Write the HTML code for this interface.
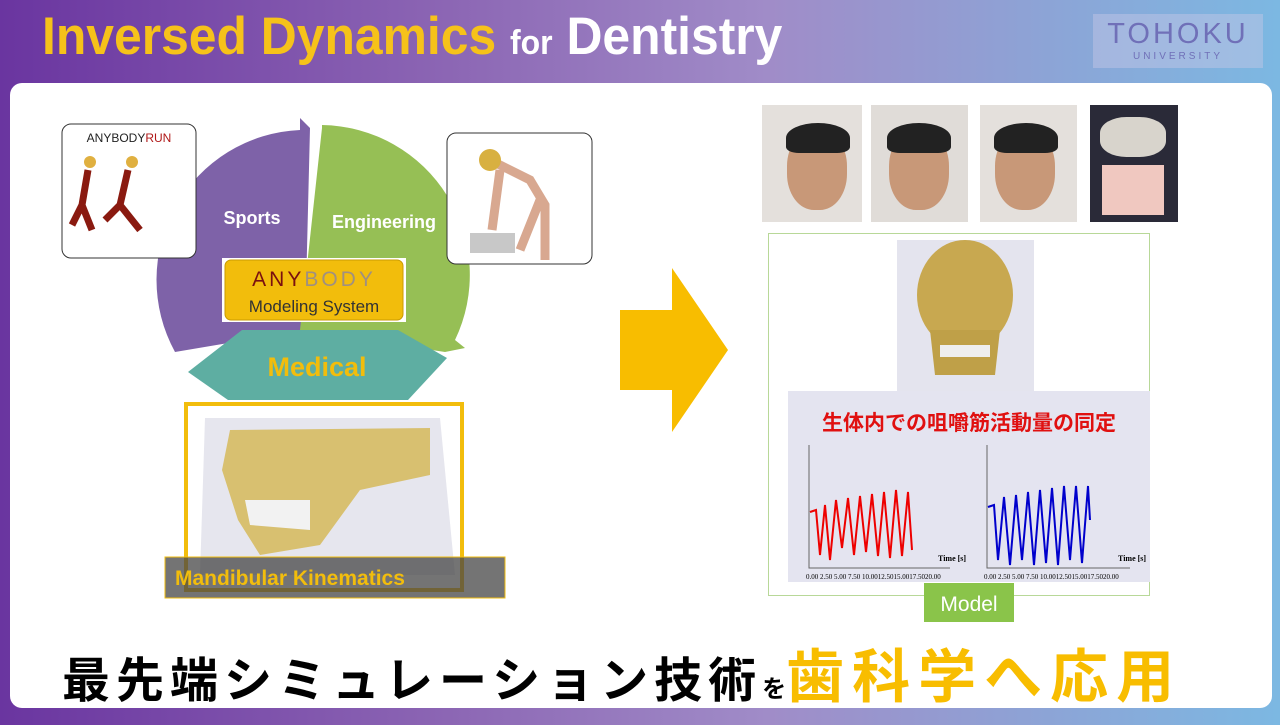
<!DOCTYPE html>
<html><head><meta charset="utf-8"><style>
body{margin:0;width:1280px;height:720px;overflow:hidden;position:relative;font-family:"Liberation Sans","Noto Sans CJK JP",sans-serif;background:linear-gradient(90deg,#6a35a0 0%,#8c66b4 35%,#a08cc8 60%,#7cb8e2 100%);}
.abs{position:absolute}
.panel{left:10px;top:83px;width:1262px;height:625px;background:#fff;border-radius:12px}
.title{left:42px;top:6px;font-size:53px;font-weight:bold;color:#f6c21a;white-space:nowrap;transform:scaleX(0.94);transform-origin:left}
.logo{left:1093px;top:14px;width:170px;height:54px;background:rgba(200,200,230,0.45);text-align:center;color:#7070b8}
.photo{top:105px;height:117px;background:#d8d0c8;overflow:hidden}
.face{position:absolute;width:60px;height:80px;border-radius:45%;background:#c89878;top:25px}
.hair{position:absolute;width:64px;height:30px;border-radius:50% 50% 20% 20%;background:#222;top:18px}
</style></head><body>
<div class="abs title">Inversed Dynamics <span style="font-size:34px;color:#fff">for</span> <span style="color:#fff">Dentistry</span></div>
<div class="abs logo"><div style="font-size:29px;letter-spacing:3px;margin-top:4px">TOHOKU</div><div style="font-size:10px;letter-spacing:3px">UNIVERSITY</div></div>
<div class="abs panel"></div>

<svg class="abs" style="left:0;top:0" width="1280" height="720">
<path d="M300,130 L300,118 L310,128 L305,330 L175,352 A150,150 0 0 1 300,130 Z" fill="#7e62a8"/>
<path d="M322,125 A150,150 0 0 1 455,340 L465,348 L445,352 L300,330 L322,128 Z" fill="#96bf55"/>
<path d="M188,372 L242,330 L398,330 L447,358 L408,400 L228,400 Z" fill="#5eaea2"/>
<rect x="222" y="258" width="184" height="64" fill="#fff"/>
<rect x="225" y="260" width="178" height="60" rx="6" fill="#f2bd0c" stroke="#c99a00"/>
<text x="314" y="286" text-anchor="middle" font-size="21" font-family="Liberation Sans" letter-spacing="3"><tspan fill="#7a1010">ANY</tspan><tspan fill="#a09080">BODY</tspan></text>
<text x="314" y="312" text-anchor="middle" font-size="17" fill="#333">Modeling System</text>
<text x="252" y="224" text-anchor="middle" font-size="18" font-weight="bold" fill="#fff">Sports</text>
<text x="384" y="228" text-anchor="middle" font-size="18" font-weight="bold" fill="#fff">Engineering</text>
<text x="317" y="376" text-anchor="middle" font-size="27" font-weight="bold" fill="#f2bd0c">Medical</text>
<rect x="62" y="124" width="134" height="134" rx="9" fill="#fff" stroke="#333"/>
<text x="129" y="142" text-anchor="middle" font-size="12" fill="#222">ANYBODY<tspan fill="#b01818">RUN</tspan></text>
<path d="M88,170 l-6,35 l-10,20 M82,205 l10,25 M128,170 l-8,35 l-15,15 M120,205 l20,25" stroke="#8a1a10" stroke-width="7" fill="none"/>
<circle cx="90" cy="162" r="6" fill="#e0b040"/><circle cx="132" cy="162" r="6" fill="#e0b040"/>
<rect x="447" y="133" width="145" height="131" rx="9" fill="#fff" stroke="#333"/>
<rect x="470" y="233" width="45" height="20" fill="#c8c8c8"/>
<path d="M490,160 l40,20 l15,25 l0,55 M500,170 l-8,60 M540,200 l-20,50" stroke="#d8a890" stroke-width="9" fill="none"/>
<circle cx="490" cy="160" r="11" fill="#d8b040"/>
<rect x="186" y="404" width="276" height="186" fill="#fff" stroke="#f2bd0c" stroke-width="4"/>
<path d="M205,418 L440,418 L455,575 L200,575 Z" fill="#e6e6ee"/>
<path d="M230,430 L430,428 L430,475 L360,490 L320,545 L260,555 L238,520 L222,470 Z" fill="#d8c070"/>
<path d="M245,500 L310,500 L310,530 L250,525 Z" fill="#f2f2f2"/>
<rect x="165" y="557" width="340" height="41" fill="rgba(70,70,70,0.75)" stroke="#f2bd0c"/>
<text x="175" y="585" font-size="21" font-weight="bold" fill="#f2bd0c">Mandibular Kinematics</text>
<path d="M620,310 L672,310 L672,268 L728,350 L672,432 L672,390 L620,390 Z" fill="#f8bd00"/>
<rect x="768.5" y="233.5" width="381" height="362" fill="#fff" stroke="#b8d898"/>
<rect x="897" y="240" width="137" height="152" fill="#e4e4ee"/>
<ellipse cx="965" cy="295" rx="48" ry="55" fill="#c8a850"/>
<path d="M930,330 L1000,330 L995,375 L935,375 Z" fill="#bfa048"/>
<rect x="940" y="345" width="50" height="12" fill="#eee"/>
<rect x="788" y="391" width="362" height="191" fill="#e4e4f0"/>
<text x="969" y="430" text-anchor="middle" font-size="21" font-weight="bold" fill="#e01010" font-family="Liberation Sans,Noto Sans CJK JP,sans-serif">生体内での咀嚼筋活動量の同定</text>
<path d="M809,445 L809,568 L950,568 M987,445 L987,568 L1130,568" stroke="#666" fill="none"/>
<path d="M810,512 L816,510 L820,555 L825,505 L830,560 L836,500 L842,548 L848,498 L854,555 L860,496 L866,552 L872,494 L878,556 L884,492 L890,558 L896,490 L902,556 L908,492 L912,550" stroke="#e00" stroke-width="2" fill="none"/>
<path d="M988,507 L994,505 L998,560 L1004,497 L1010,565 L1016,495 L1022,560 L1028,492 L1034,565 L1040,490 L1046,563 L1052,488 L1058,565 L1064,486 L1070,560 L1076,486 L1082,563 L1088,486 L1090,520" stroke="#00c" stroke-width="2" fill="none"/>
<text x="938" y="561" font-size="8" font-family="Liberation Serif" font-weight="bold">Time [s]</text>
<text x="1118" y="561" font-size="8" font-family="Liberation Serif" font-weight="bold">Time [s]</text>
<text x="806" y="579" font-size="7" font-family="Liberation Serif">0.00 2.50 5.00 7.50 10.0012.5015.0017.5020.00</text>
<text x="984" y="579" font-size="7" font-family="Liberation Serif">0.00 2.50 5.00 7.50 10.0012.5015.0017.5020.00</text>
<rect x="924" y="583" width="90" height="39" fill="#8ac44a"/>
<text x="969" y="611" text-anchor="middle" font-size="21" fill="#fff">Model</text>
</svg>
<div class="abs photo" style="left:762px;width:100px;background:#e4e0dc"><div class="face" style="left:25px"></div><div class="hair" style="left:24px"></div></div>
<div class="abs photo" style="left:871px;width:97px;background:#e0dcd8"><div class="face" style="left:18px"></div><div class="hair" style="left:16px"></div></div>
<div class="abs photo" style="left:980px;width:97px;background:#e4e0dc"><div class="face" style="left:15px"></div><div class="hair" style="left:14px"></div></div>
<div class="abs photo" style="left:1090px;width:88px;background:#2a2a38"><div style="position:absolute;left:12px;top:60px;width:62px;height:50px;background:#f0c8c0"></div><div style="position:absolute;left:10px;top:12px;width:66px;height:40px;border-radius:40%;background:#d8d4cc"></div></div>
<div class="abs" style="left:62px;top:646px;white-space:nowrap;font-weight:bold;font-family:'Liberation Sans','Noto Sans CJK JP',sans-serif;line-height:64px">
<span style="font-size:48px;letter-spacing:6px;color:#000">最先端シミュレーション技術</span><span style="font-size:24px;color:#000">を</span><span style="font-size:58px;letter-spacing:8px;color:#f8bd00">歯科学へ応用</span></div>
</body></html>
